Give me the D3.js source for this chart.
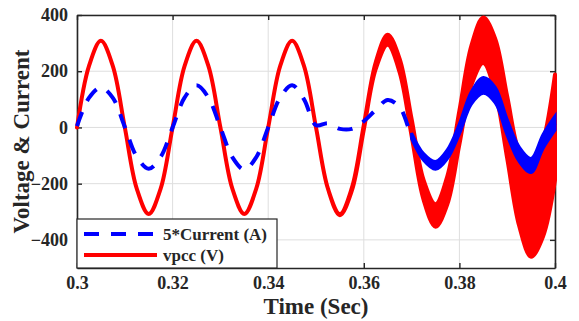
<!DOCTYPE html>
<html>
<head>
<meta charset="utf-8">
<script src="https://cdn.jsdelivr.net/npm/d3@7"></script>
<style>
  html, body { margin: 0; padding: 0; background: #fff; }
  svg { display: block; }
  text { font-family: "Liberation Serif", "Times New Roman", serif; font-weight: bold; fill: #262626; }
</style>
</head>
<body>
<div id="chart"></div>
<script>
// sample times (s)
const time = [0.3, 0.3025, 0.305, 0.3075, 0.31, 0.3125, 0.315, 0.3175, 0.32, 0.3225,
  0.325, 0.3275, 0.33, 0.3325, 0.335, 0.3375, 0.34, 0.3425, 0.345, 0.3475,
  0.35, 0.3525, 0.355, 0.3575, 0.36, 0.3625, 0.365, 0.3675, 0.37, 0.3725,
  0.375, 0.3775, 0.38, 0.3825, 0.385, 0.3875, 0.39, 0.3925, 0.395, 0.3975, 0.4];

// vpcc (V): centre of the waveform and half height of its ripple band
const vpcc = [0, 218, 308, 218, 0, -218, -308, -218, 0, 218,
  308, 218, 0, -218, -308, -218, 0, 218, 308, 218,
  0, -218, -310, -220, 0, 220, 312, 220, 0, -222,
  -313, -222, 0, 220, 310, 220, 0, -220, -310, -220, 0];
const vpccRipple = [0, 0, 0, 0, 0, 0, 0, 0, 0, 0,
  0, 0, 0, 0, 0, 0, 0, 0, 0, 0,
  0, 0, 2, 5, 8, 12, 18, 24, 30, 35,
  40, 50, 60, 70, 81, 95, 110, 130, 150, 168, 188];

// 5*Current (A)
const current = [5, 105, 142, 105, 2, -104, -147, -105, 0, 106,
  150, 106, 0, -106, -150, -106, 0, 106, 150, 100,
  8, 15, -5, -5, 22, 62, 98, 72, -30, -105,
  -135, -95, -5, 105, 150, 115, 0, -95, -135, -50, 15];
const currentRipple = [0, 0, 0, 0, 0, 0, 0, 0, 0, 0,
  0, 0, 0, 0, 0, 0, 0, 0, 0, 0,
  0, 0, 2, 3, 4, 5, 6, 8, 10, 12,
  14, 16, 18, 22, 28, 28, 28, 26, 25, 25, 25];

const timeTicks = [0.3, 0.32, 0.34, 0.36, 0.38, 0.4];
const valueTicks = [-400, -200, 0, 200, 400];
const legendLabels = ["5*Current (A)", "vpcc (V)"];

const W = 579, H = 321;
const margin = { top: 15, right: 24, bottom: 53, left: 77 };
const width = W - margin.left - margin.right;
const height = H - margin.top - margin.bottom;

const svg = d3.select("#chart").append("svg")
  .attr("width", W)
  .attr("height", H);

const g = svg.append("g")
  .attr("transform", `translate(${margin.left},${margin.top})`);

const x = d3.scaleLinear().domain([0.3, 0.4]).range([0, width]);
const y = d3.scaleLinear().domain([-500, 400]).range([height, 0]);

// grid
g.append("g")
  .selectAll("line")
  .data(timeTicks)
  .join("line")
  .attr("x1", d => x(d)).attr("x2", d => x(d))
  .attr("y1", 0).attr("y2", height)
  .attr("stroke", "#dedede").attr("stroke-width", 1);

g.append("g")
  .selectAll("line")
  .data(valueTicks)
  .join("line")
  .attr("x1", 0).attr("x2", width)
  .attr("y1", d => y(d)).attr("y2", d => y(d))
  .attr("stroke", "#dedede").attr("stroke-width", 1);

// axes (ticks inward, box all round)
const axisStyle = sel => {
  sel.select(".domain").attr("stroke", "#262626").attr("stroke-width", 1.6);
  sel.selectAll(".tick line").attr("stroke", "#262626").attr("stroke-width", 1.4);
  sel.selectAll("text")
    .attr("font-family", "Liberation Serif")
    .attr("font-weight", "bold")
    .attr("font-size", 18)
    .attr("fill", "#262626");
};

g.append("g")
  .attr("transform", `translate(0,${height})`)
  .call(d3.axisBottom(x).tickValues(timeTicks).tickFormat(d3.format("~g")).tickSize(-5).tickSizeOuter(0).tickPadding(8))
  .call(axisStyle);

g.append("g")
  .call(d3.axisTop(x).tickValues(timeTicks).tickFormat("").tickSize(-5).tickSizeOuter(0))
  .call(axisStyle);

g.append("g")
  .call(d3.axisLeft(y).tickValues(valueTicks).tickSize(-5).tickSizeOuter(0).tickPadding(9))
  .call(axisStyle);

g.append("g")
  .attr("transform", `translate(${width},0)`)
  .call(d3.axisRight(y).tickValues(valueTicks).tickFormat("").tickSize(-5).tickSizeOuter(0))
  .call(axisStyle);

// data
const pts = time.map((t, i) => ({
  t, v: vpcc[i], vr: vpccRipple[i], c: current[i], cr: currentRipple[i]
}));

const curve = d3.curveCatmullRom.alpha(0.5);

g.append("path")
  .datum(pts)
  .attr("fill", "#ff0000")
  .attr("stroke", "#ff0000")
  .attr("stroke-width", 4)
  .attr("stroke-linejoin", "round")
  .attr("d", d3.area()
    .x(d => x(d.t))
    .y0(d => y(d.v - d.vr))
    .y1(d => y(d.v + d.vr))
    .curve(curve));

g.append("path")
  .datum(pts)
  .attr("fill", "none")
  .attr("stroke", "#0000ff")
  .attr("stroke-width", 4)
  .attr("stroke-dasharray", "15,12")
  .attr("d", d3.line()
    .x(d => x(d.t))
    .y(d => y(d.c))
    .curve(curve));

g.append("path")
  .datum(pts.filter(d => d.cr >= 10))
  .attr("fill", "#0000ff")
  .attr("stroke", "#0000ff")
  .attr("stroke-width", 3)
  .attr("d", d3.area()
    .x(d => x(d.t))
    .y0(d => y(d.c - d.cr))
    .y1(d => y(d.c + d.cr))
    .curve(curve));

// legend
const legend = g.append("g").attr("transform", `translate(0,${height - 49})`);
legend.append("rect")
  .attr("x", 0).attr("y", 0)
  .attr("width", 200).attr("height", 49)
  .attr("fill", "#fff")
  .attr("stroke", "#262626").attr("stroke-width", 1.2);

const legendStyles = [
  { color: "#0000ff", dash: "15,12" },
  { color: "#ff0000", dash: null }
];
legendLabels.forEach((label, i) => {
  const ly = 15 + i * 21;
  legend.append("line")
    .attr("x1", 7).attr("x2", 80)
    .attr("y1", ly).attr("y2", ly)
    .attr("stroke", legendStyles[i].color)
    .attr("stroke-width", 4)
    .attr("stroke-dasharray", legendStyles[i].dash);
  legend.append("text")
    .attr("x", 86).attr("y", ly)
    .attr("dy", "0.35em")
    .attr("font-size", 17)
    .text(label);
});

// axis titles
svg.append("text")
  .attr("x", margin.left + width / 2)
  .attr("y", 314)
  .attr("text-anchor", "middle")
  .attr("font-size", 23)
  .text("Time (Sec)");

svg.append("text")
  .attr("transform", `translate(29,${margin.top + height / 2}) rotate(-90)`)
  .attr("text-anchor", "middle")
  .attr("font-size", 23)
  .text("Voltage & Current");
</script>
</body>
</html>
